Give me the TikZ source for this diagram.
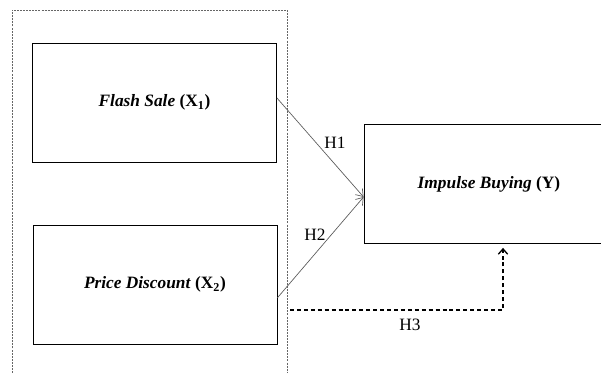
\documentclass[tikz,border=0pt]{standalone}
\usepackage{fontspec}
\setmainfont{Liberation Serif}
\usetikzlibrary{arrows.meta}

\begin{document}
\begin{tikzpicture}
[x=0.75pt,y=-0.75pt,
 every node/.style={font=\fontsize{13}{15}\selectfont,inner sep=0pt},
 varbox/.style={draw,line width=0.6pt,minimum width=183pt,minimum height=89.25pt},
 hyp/.style={draw=black!65,line width=0.5pt,-{Straight Barb[length=5pt,width=7pt]}}]
\useasboundingbox (0,0) rectangle (601,373);
% group of independent variables
\draw[black!60,line width=0.5pt,dash pattern=on 1.5pt off 0.8pt] (12,373) -- (12,10) -- (287,10) -- (287,373);
\node[varbox] (fs) at (154.5,102.5) {\textbf{\textit{Flash Sale} (X\textsubscript{1})}};
\node[varbox] (pd) at (155,284.5) {\textbf{\textit{Price Discount} (X\textsubscript{2})}};
\node[varbox,minimum width=187.5pt] (ib) at (489,184) {\textbf{\textit{Impulse Buying} (Y)}};
\coordinate (h3start) at (290,310);
\draw[hyp] ([yshift=3.4pt]fs.east) -- ([yshift=-9.75pt]ib.west);
\draw[hyp] ([yshift=-10pt]pd.east) -- ([yshift=-9.75pt]ib.west);
\draw[line width=1pt,dash pattern=on 3pt off 2.2pt,-{Straight Barb[length=4pt,width=7pt]},shorten >=3pt]
  (h3start) -| ([xshift=10.5pt]ib.south);
\node (h1) at (335,143) {H1};
\node (h2) at (315,235) {H2};
\node (h3) at (410,325) {H3};
\end{tikzpicture}
\end{document}
